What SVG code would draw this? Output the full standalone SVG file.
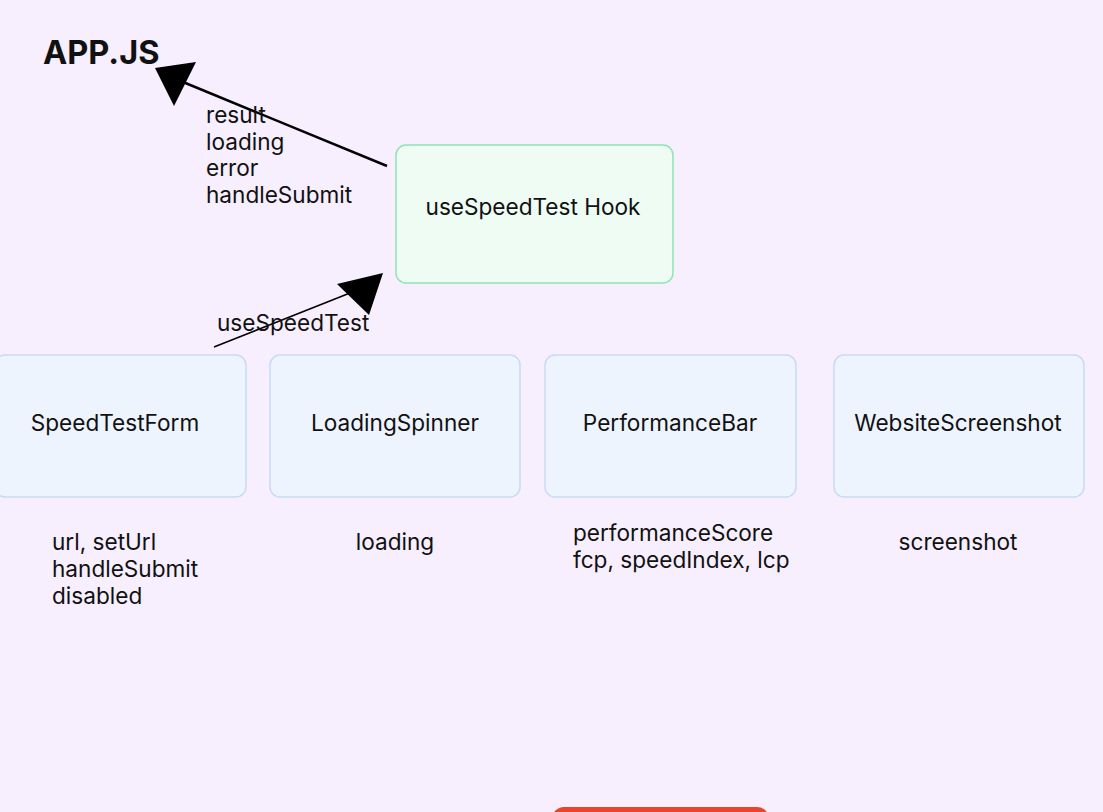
<svg xmlns="http://www.w3.org/2000/svg" width="1103" height="812" viewBox="0 0 1103 812">
<style>
.t{font-family:Inter,"Liberation Sans",sans-serif;font-size:22.6px;fill:#111}
.c{text-anchor:middle}
.hook{fill:#EEFCF3;stroke:#8EE4B4;stroke-width:1.5}
.comp{fill:#EEF4FE;stroke:#C7DBF5;stroke-width:1.5}
.ln{stroke:#000;fill:none}
</style>
<rect width="1103" height="812" fill="#F7EEFE"/>
<text x="43" y="64" style="font-family:Inter,'Liberation Sans',sans-serif;font-size:32.5px;font-weight:bold;fill:#111">APP.JS</text>
<g id="connectors">
<line class="ln" x1="387" y1="166" x2="183" y2="82" stroke-width="2.5"/>
<polygon points="155,68 196,62 174,106" fill="#000"/>
<line class="ln" x1="214" y1="347" x2="355" y2="291" stroke-width="1.5"/>
<polygon points="383,273 337,284 369,315" fill="#000"/>
<text class="t" x="206" y="123">result</text>
<text class="t" x="206" y="150">loading</text>
<text class="t" x="206" y="176">error</text>
<text class="t" x="206" y="203">handleSubmit</text>
<text class="t" x="217" y="331">useSpeedTest</text>
</g>
<g id="hook">
<rect class="hook" x="396" y="145" width="277" height="138" rx="10"/>
<text class="t c" x="533" y="215">useSpeedTest Hook</text>
</g>
<g id="speedtestform">
<rect class="comp" x="-5" y="355" width="251" height="142" rx="10"/>
<text class="t c" x="115" y="431">SpeedTestForm</text>
<text class="t" x="52" y="550">url, setUrl</text>
<text class="t" x="52" y="577">handleSubmit</text>
<text class="t" x="52" y="604">disabled</text>
</g>
<g id="loadingspinner">
<rect class="comp" x="270" y="355" width="250" height="142" rx="10"/>
<text class="t c" x="395" y="431">LoadingSpinner</text>
<text class="t c" x="395" y="550">loading</text>
</g>
<g id="performancebar">
<rect class="comp" x="545" y="355" width="251" height="142" rx="10"/>
<text class="t c" x="670" y="431">PerformanceBar</text>
<text class="t" x="573" y="541">performanceScore</text>
<text class="t" x="573" y="568">fcp, speedIndex, lcp</text>
</g>
<g id="websitescreenshot">
<rect class="comp" x="834" y="355" width="250" height="142" rx="10"/>
<text class="t c" x="958" y="431">WebsiteScreenshot</text>
<text class="t c" x="958" y="550">screenshot</text>
</g>
<g id="button">
<rect x="552" y="807" width="217" height="30" rx="12" fill="#E8452C"/>
</g>
</svg>
